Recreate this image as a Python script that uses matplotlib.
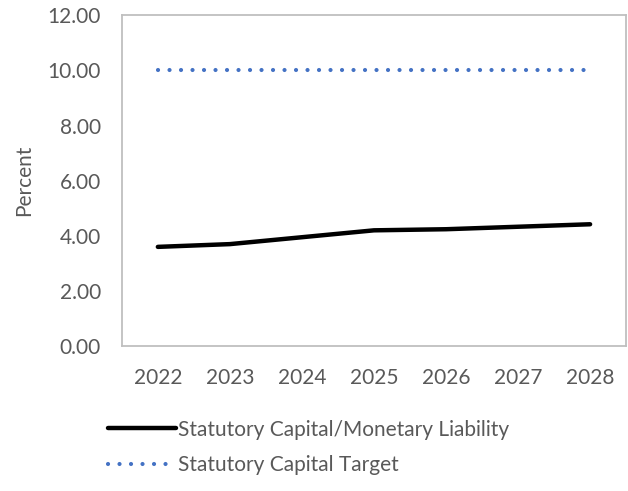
import matplotlib.pyplot as plt

years = ['2022', '2023', '2024', '2025', '2026', '2027', '2028']
capital_ratio = [3.60, 3.70, 3.95, 4.20, 4.24, 4.33, 4.42]
capital_target = [10.0, 10.0, 10.0, 10.0, 10.0, 10.0, 10.0]

plt.rcParams['font.family'] = ['Lato', 'DejaVu Sans']

fig = plt.figure(figsize=(6.28, 4.91), dpi=100)
ax = fig.add_axes([0.194, 0.295, 0.803, 0.674])

x = range(len(years))
ax.plot(x, capital_ratio, color='black', lw=3.2, solid_capstyle='round',
        label='Statutory Capital/Monetary Liability')
ax.plot(x, capital_target, color='#4472C4', lw=3, linestyle=(0, (0.01, 2.75)),
        dash_capstyle='round', label='Statutory Capital Target')

ax.set_xlim(-0.5, 6.5)
ax.set_ylim(0, 12)
ax.set_yticks([0, 2, 4, 6, 8, 10, 12])
ax.set_yticklabels([f'{v:.2f}' for v in [0, 2, 4, 6, 8, 10, 12]])
ax.set_xticks(list(x))
ax.set_xticklabels(years)
ax.tick_params(length=0, labelsize=15, colors='#595959')
ax.tick_params(axis='y', pad=15)
ax.tick_params(axis='x', pad=16)
ax.set_ylabel('Percent', fontsize=15, color='#595959', labelpad=10)
for s in ax.spines.values():
    s.set_color('#BFBFBF')
    s.set_linewidth(1.3)

fig.legend(loc='upper left', bbox_to_anchor=(0.158, 0.162), frameon=False,
           fontsize=15, labelcolor='#595959', handlelength=3.3,
           handletextpad=0.1, labelspacing=0.75, borderaxespad=0)

fig.savefig('out.png', dpi=100)
